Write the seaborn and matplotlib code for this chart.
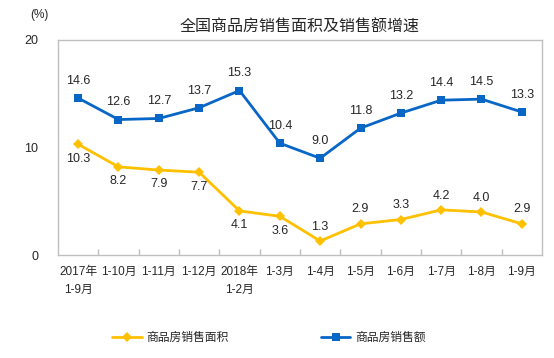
import matplotlib
matplotlib.use("Agg")
import matplotlib.pyplot as plt
import seaborn as sns
import pandas as pd
import numpy as np
from matplotlib.ticker import FixedLocator
from matplotlib.lines import Line2D

categories = ["2017年\n1-9月", "1-10月", "1-11月", "1-12月", "2018年\n1-2月", "1-3月",
              "1-4月", "1-5月", "1-6月", "1-7月", "1-8月", "1-9月"]
area = [10.3, 8.2, 7.9, 7.7, 4.1, 3.6, 1.3, 2.9, 3.3, 4.2, 4.0, 2.9]
sales = [14.6, 12.6, 12.7, 13.7, 15.3, 10.4, 9.0, 11.8, 13.2, 14.4, 14.5, 13.3]
area_name = "商品房销售面积"
sales_name = "商品房销售额"
title = "全国商品房销售面积及销售额增速"
yticks = [0, 10, 20]

sns.set_theme(style="white")
plt.rcParams['font.family'] = ['Liberation Sans', 'Noto Sans CJK SC', 'DejaVu Sans']

fig = plt.figure(figsize=(5.54, 3.58), dpi=100)
ax = fig.add_axes([58/554, 1-255/358, 484/554, 215/358])

x = np.arange(len(categories))
df = pd.DataFrame({"x": np.concatenate([x, x]),
                   "v": area + sales,
                   "s": [area_name]*len(x) + [sales_name]*len(x)})
yellow = "#FFC000"
blue = "#0866C6"
sns.lineplot(data=df, x="x", y="v", hue="s", style="s",
             palette={area_name: yellow, sales_name: blue},
             markers={area_name: "D", sales_name: "s"}, dashes=False,
             markersize=5.5, linewidth=2, markeredgewidth=0, ax=ax, legend=False)

ax.set_xlim(-0.5, len(categories)-0.5)
ax.set_ylim(0, 20)
ax.set_yticks(yticks)
ax.set_yticklabels([str(t) for t in yticks], fontsize=9)
ax.set_xticks(x)
ax.set_xticklabels(categories, fontsize=8.5, linespacing=1.6, va="top")
ax.xaxis.set_minor_locator(FixedLocator(np.arange(0.5, len(categories)-0.5, 1)))
ax.tick_params(axis="x", which="major", length=0, pad=8)
ax.tick_params(axis="x", which="minor", length=4, direction="in", color="#BFBFBF", bottom=True)
ax.tick_params(axis="y", length=0, pad=14)
ax.set_xlabel("")
ax.set_ylabel("")
for sp in ax.spines.values():
    sp.set_color("#BFBFBF")
    sp.set_linewidth(1)

for i, v in enumerate(sales):
    ax.annotate(f"{v:.1f}", (i, v), xytext=(0, 8), textcoords="offset points",
                ha="center", va="bottom", fontsize=9)
for i, v in enumerate(area):
    if i < 6:
        ax.annotate(f"{v:.1f}", (i, v), xytext=(0, -6), textcoords="offset points",
                    ha="center", va="top", fontsize=9)
    else:
        ax.annotate(f"{v:.1f}", (i, v), xytext=(0, 6), textcoords="offset points",
                    ha="center", va="bottom", fontsize=9)

fig.text(300/554, 1-27/358, title, ha="center", va="center", fontsize=11.5)
fig.text(39/554, 1-15/358, "(%)", ha="center", va="center", fontsize=8.5)

h1 = Line2D([], [], color=yellow, marker="D", markersize=5.5, linewidth=2, markeredgewidth=0)
h2 = Line2D([], [], color=blue, marker="s", markersize=5.5, linewidth=2, markeredgewidth=0)
fig.legend([h1, h2], [area_name, sales_name], loc="center", bbox_to_anchor=(269/554, 1-338/358),
           ncol=2, frameon=False, fontsize=8.5, columnspacing=7.8, handlelength=2.5, handletextpad=0.4)

fig.savefig("out.png", dpi=100)
